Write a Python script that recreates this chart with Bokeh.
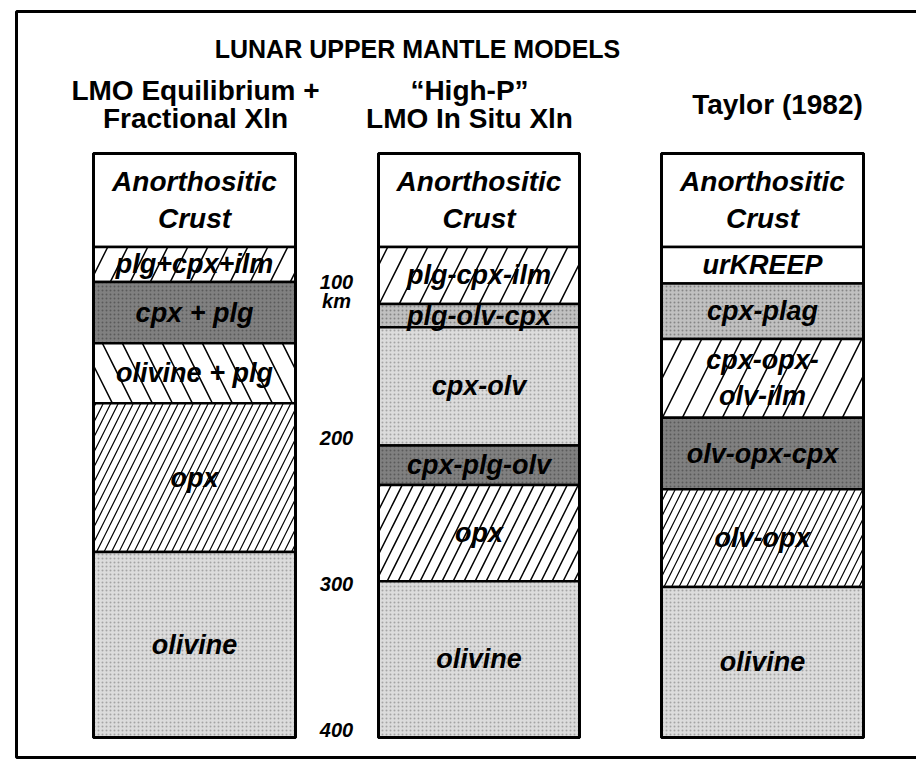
from bokeh.plotting import figure
from bokeh.models import Range1d
from bokeh.core.properties import value
from bokeh.embed import file_html
from bokeh.resources import INLINE

# ---------------- data ----------------
chart_title = "LUNAR UPPER MANTLE MODELS"
model_names = [
    "LMO Equilibrium +\nFractional Xln",
    "\u201cHigh-P\u201d\nLMO In Situ Xln",
    "Taylor (1982)",
]
depth_ticks = [100, 200, 300, 400]
depth_tick_labels = ["100\nkm", "200", "300", "400"]

lmo_layers = ["Anorthositic\nCrust", "plg+cpx+ilm", "cpx + plg", "olivine + plg", "opx", "olivine"]
lmo_bottoms = [64, 88, 130, 171, 273, 400]

highp_layers = ["Anorthositic\nCrust", "plg-cpx-ilm", "plg-olv-cpx", "cpx-olv", "cpx-plg-olv", "opx", "olivine"]
highp_bottoms = [64, 103, 119, 200, 227, 293, 400]

taylor_layers = ["Anorthositic\nCrust", "urKREEP", "cpx-plag", "cpx-opx-\nolv-ilm", "olv-opx-cpx", "olv-opx", "olivine"]
taylor_bottoms = [64, 89, 127, 181, 230, 297, 400]

# ---------------- styles ----------------
lmo_tex = ["white", "sparse_r", "dark", "sparse_l", "dense_r", "light"]
highp_tex = ["white", "sparse_r", "medium", "light", "dark", "medium_r", "light"]
taylor_tex = ["white", "white", "medium", "sparse_r", "dark", "dense_r", "light"]

TEX = {
    "white": dict(fill_color="white"),
    "light": dict(fill_color="#dcdcdc", hatch_pattern="dot", hatch_color="#a4a4a4", hatch_scale=4, hatch_weight=1),
    "medium": dict(fill_color="#c0c0c0", hatch_pattern="dot", hatch_color="#858585", hatch_scale=4, hatch_weight=1),
    "dark": dict(fill_color="#808080", hatch_pattern="dot", hatch_color="#5a5a5a", hatch_scale=4, hatch_weight=1),
    "sparse_r": dict(fill_color="white", hatch_pattern="right_diagonal_line", hatch_color="black", hatch_scale=40, hatch_weight=1.5),
    "sparse_l": dict(fill_color="white", hatch_pattern="left_diagonal_line", hatch_color="black", hatch_scale=40, hatch_weight=1.5),
    "medium_r": dict(fill_color="white", hatch_pattern="right_diagonal_line", hatch_color="black", hatch_scale=22, hatch_weight=1.5),
    "dense_r": dict(fill_color="white", hatch_pattern="right_diagonal_line", hatch_color="black", hatch_scale=15, hatch_weight=1.2),
}

FONT = value("Liberation Sans")
PX_PER_KM = 1.46
Y0 = 153  # page y of 0 km


def km(page_y):
    return (page_y - Y0) / PX_PER_KM


p = figure(width=916, height=760, output_backend="svg", toolbar_location=None,
           x_range=Range1d(0, 916), y_range=Range1d(km(760), km(0)),
           x_axis_type=None, y_axis_type=None, min_border=0)
p.grid.visible = False
p.outline_line_color = None
p.background_fill_color = "white"

# outer frame
p.quad(left=[16], right=[940], top=[km(11)], bottom=[km(757)],
       fill_color=None, line_color="black", line_width=3)

columns = [
    (93, 295, lmo_layers, lmo_bottoms, lmo_tex),
    (378, 579, highp_layers, highp_bottoms, highp_tex),
    (661, 863, taylor_layers, taylor_bottoms, taylor_tex),
]

for left, right, names, bottoms, tex in columns:
    tops = [0] + bottoms[:-1]
    for name, t, b, k in zip(names, tops, bottoms, tex):
        p.quad(left=[left], right=[right], top=[t], bottom=[b],
               line_color="black", line_width=2.5, **TEX[k])
    # column outline
    p.quad(left=[left], right=[right], top=[0], bottom=[bottoms[-1]],
           fill_color=None, line_color="black", line_width=3)
    mids = [(t + b) / 2 for t, b in zip(tops, bottoms)]
    cx = (left + right) / 2
    sizes = ["28px" if "Crust" in n else "27px" for n in names]
    p.text(x=[cx] * len(names), y=mids, text=names, text_font=FONT,
           text_font_style="bold italic", text_font_size=sizes,
           text_align="center", text_baseline="middle", text_line_height=1.2)

# model headers
head_x = [195, 469, 777]
head_y = [km(104), km(104), km(104)]
p.text(x=head_x, y=head_y, text=model_names, text_font=FONT,
       text_font_style="bold", text_font_size="28px",
       text_align="center", text_baseline="middle", text_line_height=0.9)

# main title
p.text(x=[417], y=[km(48)], text=[chart_title], text_font=FONT,
       text_font_style="bold", text_font_size="25px",
       text_align="center", text_baseline="middle")

# depth scale labels
tick_x = [336] * len(depth_ticks)
p.text(x=tick_x, y=depth_ticks, text=depth_tick_labels, text_font=FONT,
       text_font_style="bold italic", text_font_size="20px",
       text_align="center", text_baseline="middle", text_line_height=0.85,
       y_offset=-8)

open("out.html", "w").write(file_html(p, INLINE))
